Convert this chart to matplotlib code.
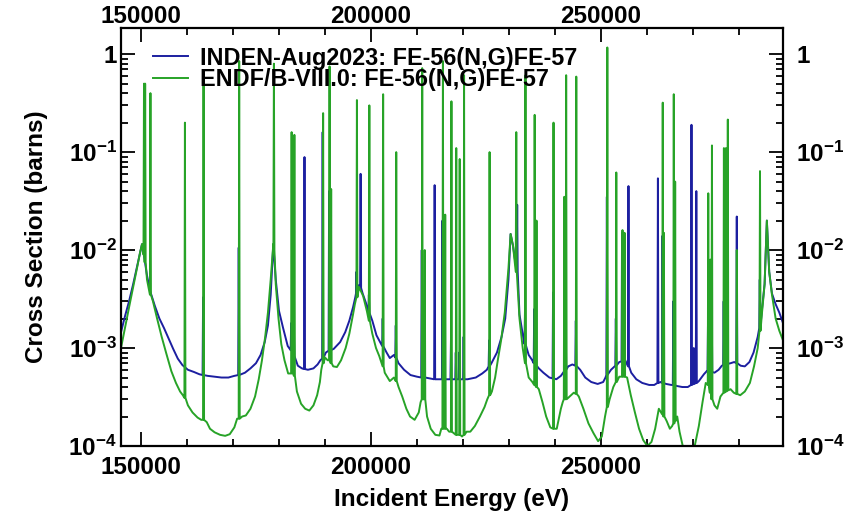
import numpy as np
import matplotlib
matplotlib.use("Agg")
import matplotlib.pyplot as plt
import matplotlib.transforms as mtransforms
from matplotlib.ticker import MultipleLocator, LogLocator, FixedLocator, FixedFormatter, NullFormatter

plt.rcParams['font.family'] = ['Liberation Sans', 'DejaVu Sans']
plt.rcParams['font.weight'] = 'bold'
plt.rcParams['mathtext.fontset'] = 'custom'
plt.rcParams['mathtext.bf'] = 'Liberation Sans:bold'
plt.rcParams['mathtext.rm'] = 'Liberation Sans:bold'

#? INDEN-Aug2023 smooth part (energy eV, barns)
inden_E = [145650, 146500, 147400, 148300, 149200, 149800, 150220, 150700, 151300, 152000,
           153000, 154000, 155000, 156000, 157000, 158000, 159000, 160200, 161500, 162700,
           164500, 166000, 167500, 169000, 170300, 172600, 173800, 175000, 176000, 176900,
           177600, 178200, 178770, 179300, 180000, 180900, 181900, 183050, 184100, 185000,
           186300, 187500, 188400, 189000, 190200, 191900, 193300, 194400, 195300, 196100,
           196600, 197400, 198200, 198900, 200300, 201200, 202000, 203400, 204100, 205000,
           206000, 207200, 208600, 210000, 211800, 214300, 216800, 218900, 221000, 222800,
           224200, 225200, 226200, 227400, 228400, 229200, 229900, 230370, 230900, 232300,
           233100, 234300, 235000, 236500, 237500, 238800, 240300, 241300, 242900, 243800,
           245500, 246600, 247900, 249300, 250500, 251000, 252200, 253000, 254000, 255300,
           256600, 257700, 259000, 260500, 261600, 263000, 264200, 265300, 266500, 267700,
           268900, 271300, 272400, 273000, 274700, 275600, 276300, 278200, 279000, 280400,
           281300, 282300, 283200, 284100, 285000, 285600, 286090, 286600, 287200, 288000,
           288800, 289600]
inden_xs = [1.45e-3, 2.1e-3, 3.0e-3, 4.5e-3, 7.0e-3, 9.5e-3, 1.15e-2, 8.5e-3, 5.5e-3, 3.8e-3,
            2.7e-3, 2.0e-3, 1.6e-3, 1.25e-3, 9.8e-4, 7.8e-4, 6.7e-4, 6.0e-4, 5.7e-4, 5.4e-4,
            5.2e-4, 5.1e-4, 5.0e-4, 5.0e-4, 5.2e-4, 5.6e-4, 6.2e-4, 7.0e-4, 8.5e-4, 1.15e-3,
            1.7e-3, 3.5e-3, 1.15e-2, 5.0e-3, 2.4e-3, 1.6e-3, 1.05e-3, 8.5e-4, 6.6e-4, 6.2e-4,
            6.0e-4, 6.2e-4, 6.8e-4, 7.5e-4, 9.0e-4, 9.8e-4, 1.15e-3, 1.45e-3, 1.9e-3, 2.6e-3,
            3.3e-3, 4.4e-3, 3.6e-3, 2.9e-3, 1.9e-3, 1.35e-3, 1.15e-3, 9.0e-4, 7.9e-4, 8.5e-4,
            7.0e-4, 6.0e-4, 5.3e-4, 5.1e-4, 5.0e-4, 4.8e-4, 4.8e-4, 4.8e-4, 4.8e-4, 5.0e-4,
            5.5e-4, 6.0e-4, 7.0e-4, 9.0e-4, 1.3e-3, 2.0e-3, 5.0e-3, 1.46e-2, 1.1e-2, 2.2e-3,
            1.3e-3, 8.5e-4, 7.6e-4, 6.2e-4, 5.6e-4, 5.0e-4, 4.8e-4, 5.2e-4, 6.5e-4, 6.8e-4,
            6.0e-4, 5.0e-4, 4.5e-4, 4.3e-4, 4.5e-4, 5.0e-4, 6.0e-4, 6.5e-4, 7.2e-4, 7.5e-4,
            5.6e-4, 4.8e-4, 4.4e-4, 4.2e-4, 4.2e-4, 4.5e-4, 4.3e-4, 4.2e-4, 4.1e-4, 4.0e-4,
            4.0e-4, 4.6e-4, 5.4e-4, 5.8e-4, 5.6e-4, 6.0e-4, 6.6e-4, 7.0e-4, 7.2e-4, 6.6e-4,
            6.5e-4, 7.2e-4, 9.0e-4, 1.3e-3, 2.4e-3, 4.5e-3, 2.0e-2, 6.0e-3, 3.6e-3, 2.8e-3,
            2.3e-3, 1.8e-3]

#? INDEN narrow resonances: energy, base, peak
inden_res_E = [163500, 171250, 182650, 183250, 185550, 189500, 190900, 196850, 197750, 199550,
               202550, 205400, 211050, 213850, 215550, 217400, 218450, 219200, 220150, 225700,
               231800, 233500, 235500, 239600, 242350, 244550, 251300, 253250, 254600, 256000,
               262400, 263400, 265750, 269700, 270200, 270750, 273300, 274100, 276700, 277500,
               279550, 284550]
inden_res_base = [5.3e-4, 5.3e-4, 9.5e-4, 8.3e-4, 6.1e-4, 7.8e-4, 9.4e-4, 3.6e-3, 4.1e-3, 2.3e-3,
                  1.05e-3, 8.0e-4, 5.0e-4, 4.8e-4, 4.8e-4, 4.8e-4, 4.8e-4, 4.8e-4, 4.8e-4, 6.5e-4,
                  6.0e-3, 1.1e-3, 7.0e-4, 4.9e-4, 6.0e-4, 6.6e-4, 5.3e-4, 6.6e-4, 7.3e-4, 6.5e-4,
                  4.4e-4, 4.4e-4, 4.2e-4, 4.2e-4, 4.3e-4, 4.4e-4, 5.8e-4, 5.7e-4, 6.7e-4, 6.9e-4,
                  7.0e-4, 1.6e-3]
inden_res_peak = [3.3e-3, 1.06e-2, 1.8e-3, 1.5e-3, 8.9e-2, 0.16, 0.04, 6.0e-3, 6.0e-2, 3.5e-3,
                  2.0e-3, 1.7e-3, 1.0e-2, 4.6e-2, 2.0e-2, 1.2e-3, 9.0e-4, 9.0e-4, 1.3e-3, 1.2e-3,
                  2.9e-2, 2.5e-3, 2.5e-3, 3.7e-3, 1.9e-3, 1.9e-3, 3.5e-2, 2.0e-3, 1.5e-2, 4.5e-2,
                  5.4e-2, 1.4e-2, 3.0e-3, 0.19, 1.0e-3, 4.0e-2, 2.0e-3, 3.0e-3, 3.0e-3, 3.0e-3,
                  2.2e-2, 5.0e-3]

#? ENDF/B-VIII.0 smooth part
endf_E = [145650, 146500, 147400, 148300, 149200, 149800, 150220, 151300, 152600, 153500,
          154500, 155500, 156600, 157600, 158500, 159100, 160200, 161200, 162300, 163100,
          164300, 165000, 166000, 167200, 168300, 169300, 170300, 170900, 172000, 172800,
          173800, 174800, 175600, 176300, 177000, 177600, 178200, 178770, 179300, 179900,
          180500, 181200, 182000, 183050, 183900, 184800, 185700, 186600, 187500, 188300,
          188900, 189200, 190000, 190600, 191800, 192600, 193500, 194500, 195300, 196100,
          196500, 197400, 198300, 199100, 200300, 201100, 201800, 203000, 204100, 205000,
          206000, 206800, 207700, 208500, 209500, 210400, 210800, 211450, 212200, 213000,
          214000, 214900, 215300, 216500, 217000, 218000, 218950, 219800, 220800, 221600,
          222600, 223700, 224700, 225300, 226300, 227000, 227600, 228300, 229100, 229900,
          230370, 230900, 232300, 233000, 234300, 235100, 236500, 237300, 238100, 239000,
          240400, 241300, 241700, 243200, 244100, 245200, 246200, 247300, 248400, 249400,
          250200, 250900, 251900, 252700, 254000, 255700, 256500, 257400, 258300, 259200,
          260100, 261000, 261800, 262600, 264300, 265000, 265500, 266600, 267100, 267800,
          268600, 269500, 270400, 271300, 272100, 272800, 274700, 275300, 276000, 278200,
          278900, 280300, 281300, 282400, 283300, 284100, 285000, 285600, 286090, 286600,
          287200, 288000, 288800, 289600]
endf_xs = [1.0e-3, 1.6e-3, 2.6e-3, 4.2e-3, 6.8e-3, 9.5e-3, 1.15e-2, 5.0e-3, 3.0e-3, 2.0e-3,
           1.3e-3, 8.8e-4, 5.8e-4, 4.4e-4, 3.6e-4, 3.3e-4, 2.6e-4, 2.2e-4, 1.95e-4, 1.85e-4,
           1.75e-4, 1.5e-4, 1.38e-4, 1.3e-4, 1.27e-4, 1.32e-4, 1.55e-4, 1.9e-4, 2.0e-4, 2.05e-4,
           2.4e-4, 3.2e-4, 4.8e-4, 7.5e-4, 1.3e-3, 2.3e-3, 5.0e-3, 1.15e-2, 4.5e-3, 2.0e-3,
           1.1e-3, 7.5e-4, 5.5e-4, 5.8e-4, 3.6e-4, 2.7e-4, 2.4e-4, 2.3e-4, 2.6e-4, 3.3e-4,
           4.5e-4, 6.0e-4, 8.0e-4, 7.5e-4, 6.5e-4, 6.4e-4, 7.5e-4, 1.0e-3, 1.4e-3, 2.2e-3,
           2.8e-3, 4.2e-3, 3.4e-3, 2.4e-3, 1.4e-3, 1.0e-3, 8.3e-4, 5.6e-4, 4.6e-4, 5.0e-4,
           4.0e-4, 3.2e-4, 2.4e-4, 2.0e-4, 1.85e-4, 2.2e-4, 2.8e-4, 3.0e-4, 2.0e-4, 1.5e-4,
           1.3e-4, 1.28e-4, 1.5e-4, 1.5e-4, 1.4e-4, 1.35e-4, 1.3e-4, 1.25e-4, 1.4e-4, 1.4e-4,
           1.6e-4, 2.0e-4, 2.5e-4, 3.0e-4, 3.6e-4, 5.0e-4, 7.6e-4, 1.2e-3, 2.3e-3, 6.5e-3,
           1.46e-2, 1.1e-2, 2.0e-3, 1.0e-3, 5.0e-4, 4.5e-4, 3.8e-4, 2.8e-4, 2.0e-4, 1.55e-4,
           1.5e-4, 2.4e-4, 2.8e-4, 3.2e-4, 3.5e-4, 3.2e-4, 2.4e-4, 1.7e-4, 1.35e-4, 1.12e-4,
           1.25e-4, 2.0e-4, 3.0e-4, 4.0e-4, 5.1e-4, 5.0e-4, 3.3e-4, 2.2e-4, 1.5e-4, 1.15e-4,
           1.0e-4, 1.1e-4, 1.5e-4, 2.4e-4, 1.8e-4, 1.5e-4, 1.6e-4, 2.0e-4, 1.4e-4, 1.0e-4,
           8.8e-5, 9.0e-5, 1.0e-4, 1.6e-4, 2.8e-4, 4.4e-4, 2.6e-4, 2.4e-4, 3.2e-4, 3.8e-4,
           3.5e-4, 3.3e-4, 3.6e-4, 4.4e-4, 6.5e-4, 1.0e-3, 2.2e-3, 4.5e-3, 2.0e-2, 6.0e-3,
           3.5e-3, 2.0e-3, 1.5e-3, 1.2e-3]

#? ENDF narrow resonances
endf_res_E = [150650, 150900, 152050, 159550, 163600, 171350, 178900, 182750, 183350, 189600,
              191000, 191350, 196950, 199650, 202650, 205500, 211150, 211700, 215650, 216150,
              217500, 218550, 219300, 220250, 225800, 231600, 233600, 235600, 236000, 239700,
              242050, 242450, 244650, 251400, 253350, 254700, 255150, 263450, 263700, 265850,
              266150, 273350, 273800, 274150, 276750, 277200, 277600, 279550, 284600]
endf_res_base = [9.0e-3, 7.5e-3, 3.5e-3, 3.1e-4, 1.85e-4, 1.9e-4, 1.0e-2, 5.5e-4, 5.2e-4, 7.0e-4,
                 7.5e-4, 7.0e-4, 3.3e-3, 1.9e-3, 6.5e-4, 4.6e-4, 3.0e-4, 3.0e-4, 1.5e-4, 1.5e-4,
                 1.4e-4, 1.3e-4, 1.3e-4, 1.3e-4, 3.3e-4, 6.0e-3, 7.0e-4, 4.2e-4, 4.0e-4, 1.5e-4,
                 3.0e-4, 3.0e-4, 3.4e-4, 2.5e-4, 4.5e-4, 5.1e-4, 5.1e-4, 2.1e-4, 2.0e-4, 1.7e-4,
                 1.8e-4, 4.2e-4, 3.5e-4, 3.0e-4, 3.5e-4, 3.6e-4, 3.7e-4, 3.4e-4, 1.5e-3]
endf_res_peak = [0.50, 0.50, 0.40, 0.20, 0.48, 0.85, 0.80, 0.16, 0.15, 0.25,
                 0.75, 0.042, 0.34, 0.30, 0.39, 0.10, 0.72, 0.01, 0.85, 0.023,
                 0.33, 0.11, 0.085, 0.61, 0.10, 0.16, 0.61, 0.24, 0.02, 0.20,
                 0.035, 0.61, 0.59, 1.17, 0.062, 0.016, 0.015, 0.32, 0.015, 0.39,
                 0.05, 0.038, 0.008, 0.117, 0.11, 0.11, 0.215, 0.010, 0.064]

xtick_vals = [150000, 200000, 250000]
ytick_vals = [1e-4, 1e-3, 1e-2, 1e-1, 1]
ytick_labels = [r'$\mathbf{10^{-4}}$', r'$\mathbf{10^{-3}}$', r'$\mathbf{10^{-2}}$',
                r'$\mathbf{10^{-1}}$', '1']


def curve(E, xs, rE, rbase, rpeak, half=110):
    # smooth points + each narrow resonance as base/peak/base
    e = list(E)
    s = list(xs)
    for r, b, p in zip(rE, rbase, rpeak):
        e += [r - half, r, r + half]
        s += [b, p, b]
    order = np.argsort(e)
    return np.array(e)[order], np.array(s)[order]


fig = plt.figure(figsize=(8.5, 5.22), dpi=100)
ax = fig.add_axes([121 / 850, 76 / 522, 662 / 850, 418 / 522])

xb, yb = curve(inden_E, inden_xs, inden_res_E, inden_res_base, inden_res_peak)
xg, yg = curve(endf_E, endf_xs, endf_res_E, endf_res_base, endf_res_peak)
ax.plot(xb, yb, color='#1c1fa0', lw=1.4, label='INDEN-Aug2023: FE-56(N,G)FE-57')
ax.plot(xg, yg, color='#27a327', lw=1.4, label='ENDF/B-VIII.0: FE-56(N,G)FE-57')

ax.set_yscale('log')
ax.set_xlim(145650, 289600)
ax.set_ylim(1e-4, 1.85)

fs = 17.5
ax.xaxis.set_major_locator(FixedLocator(xtick_vals))
ax.xaxis.set_major_formatter(FixedFormatter([str(v) for v in xtick_vals]))
ax.xaxis.set_minor_locator(MultipleLocator(10000))
ax.yaxis.set_major_locator(FixedLocator(ytick_vals))
ax.yaxis.set_major_formatter(FixedFormatter(ytick_labels))
ax.yaxis.set_minor_locator(LogLocator(base=10, subs=np.arange(2, 10), numticks=20))
ax.yaxis.set_minor_formatter(NullFormatter())

ax.tick_params(which='both', direction='in', top=True, right=True,
               labeltop=True, labelright=True, labelsize=fs, width=1.3)
ax.tick_params(which='major', length=10)
ax.tick_params(which='minor', length=5)
ax.tick_params(axis='x', which='major', pad=7.5)
ax.tick_params(axis='y', which='major', pad=3)
for sp in ax.spines.values():
    sp.set_linewidth(1.6)

# top labels sit closer to the frame, right labels further away
down = mtransforms.ScaledTranslation(0, -10.5 / 100, fig.dpi_scale_trans)
right = mtransforms.ScaledTranslation(9 / 100, 0, fig.dpi_scale_trans)
for t in ax.xaxis.get_major_ticks():
    t.label2.set_transform(t.label2.get_transform() + down)
for t in ax.yaxis.get_major_ticks():
    t.label2.set_transform(t.label2.get_transform() + right)

ax.set_xlabel('Incident Energy (eV)', fontsize=fs, fontweight='bold', labelpad=6)
ax.set_ylabel('Cross Section (barns)', fontsize=fs, fontweight='bold', labelpad=15)

leg = ax.legend(loc='upper left', bbox_to_anchor=(0.02, 1.0), frameon=False,
                fontsize=16.8, handlelength=1.5, handletextpad=0.5,
                labelspacing=-0.05, borderaxespad=0.4)
for t in leg.get_texts():
    t.set_fontweight('bold')

fig.savefig('out.png', dpi=100)
